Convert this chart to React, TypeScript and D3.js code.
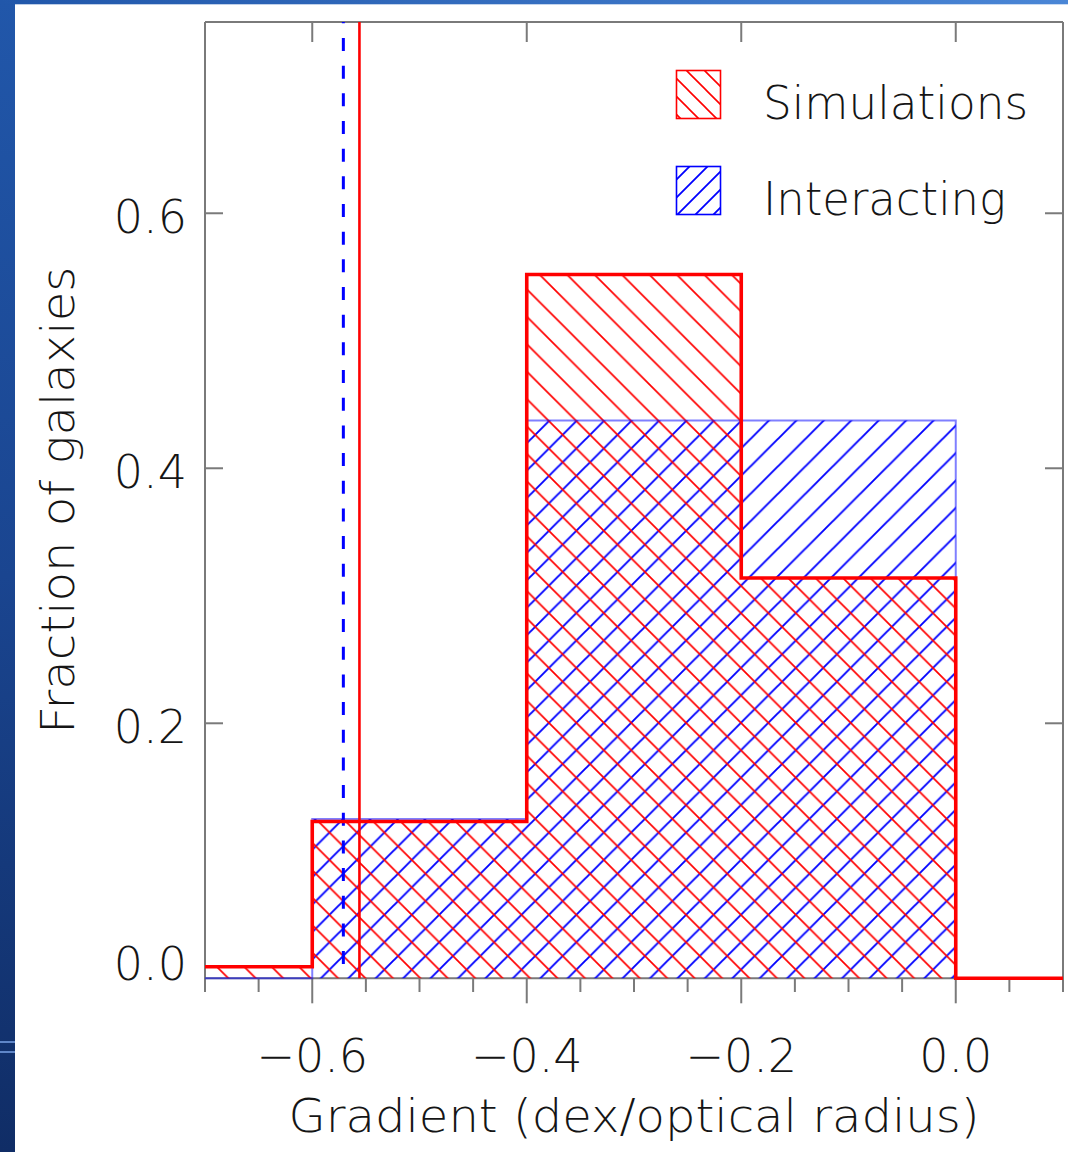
import React from "react";
import * as d3 from "d3";

// Histogram bin edges (dex / optical radius) and fractions per bin
const binEdges = [-0.7, -0.6, -0.4, -0.2, 0.0, 0.1];
const simulationsFrac = [0.009, 0.123, 0.552, 0.314, 0.0];
const interactingFrac = [0.0, 0.125, 0.4375, 0.4375, 0.0];

// Median gradients marked as vertical lines
const simulationsMedian = -0.556;
const interactingMedian = -0.571;

const xMajorTicks = [-0.6, -0.4, -0.2, 0.0];
const xMinorTicks = d3.range(-0.7, 0.1001, 0.05).map((v) => +v.toFixed(2));
const yTicks = [0.0, 0.2, 0.4, 0.6];

const legendItems = [
  { label: "Simulations", color: "#ff0000", pattern: "legRed" },
  { label: "Interacting", color: "#0000ff", pattern: "legBlue" },
];

const W = 1068;
const H = 1152;
const FONT = "'DejaVu Sans ExtraLight', 'DejaVu Sans Light', 'Inter', 'DejaVu Sans', sans-serif";
const AXIS = "#7a7a7a";

export default function App() {
  const x = d3.scaleLinear().domain([-0.7, 0.1]).range([205, 1063]);
  const y = d3.scaleLinear().domain([0, 0.75]).range([978.3, 22]);
  const [x0, x1] = x.range();
  const yTop = y(0.75);
  const yBase = y(0);
  const frameBottom = yBase + 13.7;

  const stepPoints = (vals: number[]) => {
    const pts = vals.map((v, i) => [binEdges[i], v] as [number, number]);
    pts.push([binEdges[binEdges.length - 1], vals[vals.length - 1]]);
    return pts;
  };

  const line = d3
    .line<[number, number]>()
    .x((d) => x(d[0]))
    .y((d) => y(d[1]))
    .curve(d3.curveStepAfter);
  const area = d3
    .area<[number, number]>()
    .x((d) => x(d[0]))
    .y0(yBase)
    .y1((d) => y(d[1]))
    .curve(d3.curveStepAfter);

  const simPts = stepPoints(simulationsFrac);
  const intPts = stepPoints(interactingFrac);

  const s = 27.43;
  const ls = 18;
  const backslash = (n: number) =>
    `M-1,-1L${n + 1},${n + 1}M${n - 1},-1L${n + 1},1M-1,${n - 1}L1,${n + 1}`;
  const slash = (n: number) =>
    `M-1,${n + 1}L${n + 1},-1M-1,1L1,-1M${n - 1},${n + 1}L${n + 1},${n - 1}`;

  return (
    <svg
      width={W}
      height={H}
      style={{ position: "absolute", left: 0, top: 0, display: "block", background: "#ffffff" }}
    >
      <defs>
        <linearGradient id="sideBlue" x1="0" y1="0" x2="0" y2="1">
          <stop offset="0" stopColor="#2157aa" />
          <stop offset="0.5" stopColor="#1a4590" />
          <stop offset="1" stopColor="#102d66" />
        </linearGradient>
        <linearGradient id="topBlue" x1="0" y1="0" x2="1" y2="0">
          <stop offset="0" stopColor="#2157aa" />
          <stop offset="1" stopColor="#4a86d6" />
        </linearGradient>
        <pattern id="hatchRed" patternUnits="userSpaceOnUse" width={s} height={s} x={265 % s} y={0}>
          <path d={backslash(s)} stroke="#ff0000" strokeWidth={1.7} fill="none" />
        </pattern>
        <pattern id="hatchBlue" patternUnits="userSpaceOnUse" width={s} height={s} x={(970 - s) % s} y={0}>
          <path d={slash(s)} stroke="#0000ff" strokeWidth={1.9} fill="none" />
        </pattern>
        <pattern id="legRed" patternUnits="userSpaceOnUse" width={ls} height={ls} x={4} y={0}>
          <path d={backslash(ls)} stroke="#ff0000" strokeWidth={1.6} fill="none" />
        </pattern>
        <pattern id="legBlue" patternUnits="userSpaceOnUse" width={ls} height={ls} x={4} y={0}>
          <path d={slash(ls)} stroke="#0000ff" strokeWidth={1.8} fill="none" />
        </pattern>
      </defs>

      {/* slide frame */}
      <rect x={0} y={0} width={W} height={H} fill="#ffffff" />
      <rect x={0} y={0} width={15} height={H} fill="url(#sideBlue)" />
      <rect x={0} y={0} width={W} height={4.3} fill="url(#topBlue)" />
      <rect x={0} y={1041} width={15} height={2} fill="#5f86c8" />
      <rect x={0} y={1051} width={15} height={2} fill="#5f86c8" />

      {/* axes box */}
      <g stroke={AXIS} strokeWidth={2} fill="none">
        <line x1={x0} y1={yTop} x2={x1} y2={yTop} />
        <line x1={x0} y1={yTop} x2={x0} y2={frameBottom} />
        <line x1={x1} y1={yTop} x2={x1} y2={frameBottom} />
        <line x1={x0} y1={yBase} x2={x1} y2={yBase} />
        {xMinorTicks.map((t) => (
          <line
            key={"mn" + t}
            x1={x(t)}
            x2={x(t)}
            y1={yBase}
            y2={xMajorTicks.some((m) => Math.abs(m - t) < 1e-6) ? yBase + 25 : yBase + 13.7}
          />
        ))}
        {xMajorTicks.map((t) => (
          <line key={"top" + t} x1={x(t)} x2={x(t)} y1={yTop} y2={yTop + 20} />
        ))}
        {yTicks
          .filter((t) => t > 0)
          .map((t) => (
            <g key={"yt" + t}>
              <line x1={x0} x2={x0 + 18} y1={y(t)} y2={y(t)} />
              <line x1={x1} x2={x1 - 18} y1={y(t)} y2={y(t)} />
            </g>
          ))}
      </g>

      {/* hatched histograms */}
      <path d={area(intPts) || ""} fill="url(#hatchBlue)" />
      <path d={area(simPts) || ""} fill="url(#hatchRed)" />
      <path d={line(intPts) || ""} fill="none" stroke="#0000ff" strokeOpacity={0.5} strokeWidth={2} />

      {/* medians */}
      <line
        x1={x(interactingMedian)}
        x2={x(interactingMedian)}
        y1={yTop}
        y2={yBase}
        stroke="#0000ff"
        strokeWidth={3}
        strokeDasharray="13 14.67"
        strokeDashoffset={11.67}
      />
      <line
        x1={x(simulationsMedian)}
        x2={x(simulationsMedian)}
        y1={yTop}
        y2={yBase}
        stroke="#ff0000"
        strokeWidth={2.6}
      />
      <path d={line(simPts) || ""} fill="none" stroke="#ff0000" strokeWidth={3.6} />

      {/* tick labels */}
      <g fontFamily={FONT} fontWeight={200} fontSize={46} fill="#151515">
        {xMajorTicks.map((t) => (
          <text key={"xl" + t} x={x(t)} y={1072} textAnchor="middle">
            {t === 0 ? "0.0" : "\u2212" + Math.abs(t).toFixed(1)}
          </text>
        ))}
        {yTicks.map((t) => (
          <text
            key={"yl" + t}
            x={187}
            y={t === 0 ? y(t) + 2 : y(t) + 20}
            textAnchor="end"
          >
            {t.toFixed(1)}
          </text>
        ))}
        <text x={(x0 + x1) / 2} y={1132} textAnchor="middle" textLength={691} lengthAdjust="spacingAndGlyphs">
          Gradient (dex/optical radius)
        </text>
        <text
          transform={`translate(74, ${(yTop + yBase) / 2}) rotate(-90)`}
          textAnchor="middle"
          textLength={467}
          lengthAdjust="spacingAndGlyphs"
        >
          Fraction of galaxies
        </text>
      </g>

      {/* legend */}
      <g fontFamily={FONT} fontWeight={200} fontSize={46} fill="#151515">
        {legendItems.map((it, i) => (
          <g key={it.label} transform={`translate(0, ${i * 96})`}>
            <rect
              x={676.5}
              y={70.5}
              width={44}
              height={48}
              fill={`url(#${it.pattern})`}
              stroke={it.color}
              strokeWidth={1.6}
            />
            <text x={763} y={119} textLength={i === 0 ? 265 : 243} lengthAdjust="spacingAndGlyphs">
              {it.label}
            </text>
          </g>
        ))}
      </g>
    </svg>
  );
}
